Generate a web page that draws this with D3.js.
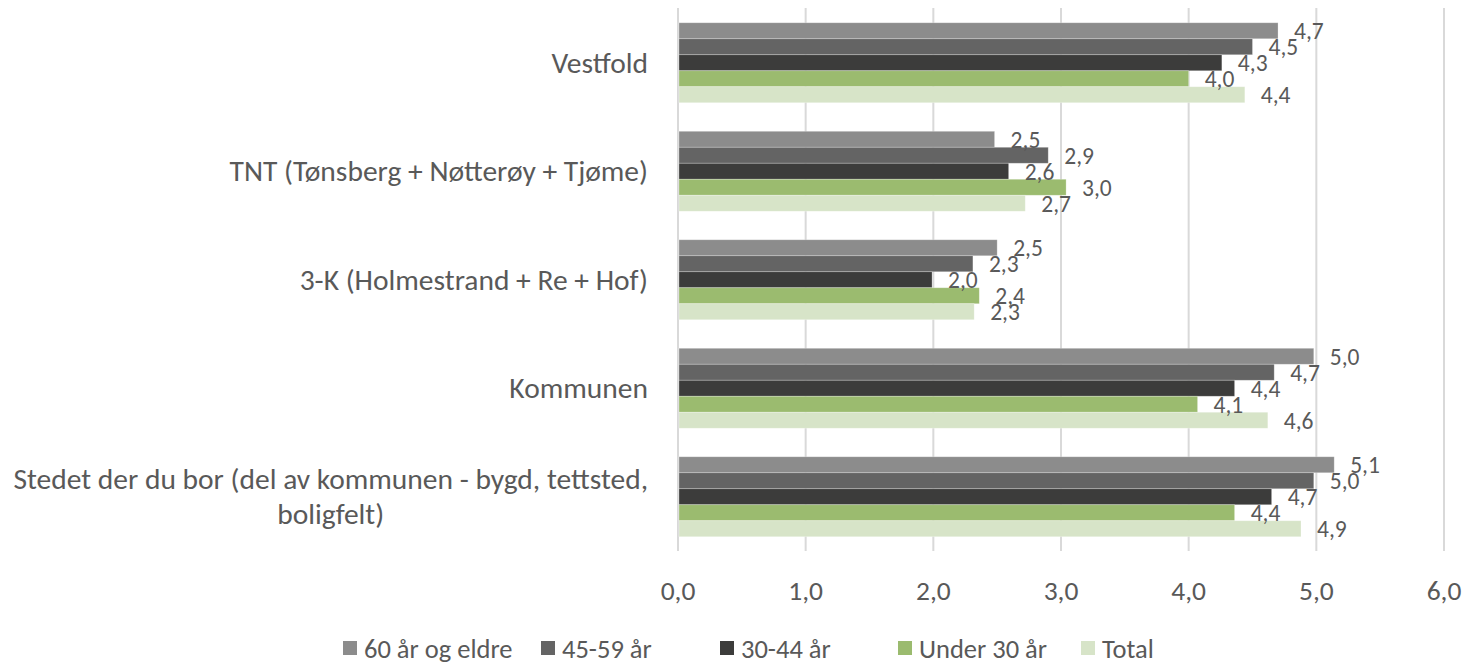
<!DOCTYPE html>
<html>
<head>
<meta charset="utf-8">
<script src="https://cdn.jsdelivr.net/npm/d3@7"></script>
<style>
  body { margin: 0; background: #fff; }
  svg text { font-family: Carlito, Calibri, Lato, sans-serif; fill: #595959; }
</style>
</head>
<body>
<svg width="1467" height="663"></svg>
<script>
// categories top -> bottom
var categories = [
  "Vestfold",
  "TNT (Tønsberg + Nøtterøy + Tjøme)",
  "3-K (Holmestrand + Re + Hof)",
  "Kommunen",
  "Stedet der du bor (del av kommunen - bygd, tettsted, boligfelt)"
];
var series = ["60 år og eldre", "45-59 år", "30-44 år", "Under 30 år", "Total"];
var colors = ["#8c8c8c", "#646464", "#3c3c3b", "#9bbb6f", "#d7e4c8"];

// values per series, same order as categories
var v60 = [4.70, 2.48, 2.50, 4.98, 5.14];
var v45 = [4.50, 2.90, 2.31, 4.67, 4.98];
var v30 = [4.26, 2.59, 1.99, 4.36, 4.65];
var vU30 = [4.00, 3.04, 2.36, 4.07, 4.36];
var vTot = [4.44, 2.72, 2.32, 4.62, 4.88];
var values = [v60, v45, v30, vU30, vTot];

var xTicks = [0, 1, 2, 3, 4, 5, 6];

var svg = d3.select("svg");
var fmt = function(d) { return d3.format(".1f")(d).replace(".", ","); };

var x = d3.scaleLinear().domain([0, 6]).range([678, 1444]);
var y = d3.scaleBand().domain(categories).range([8.5, 551])
    .paddingInner(0.263).paddingOuter(0.1315);
var ySub = d3.scaleBand().domain(series).range([0, y.bandwidth()]);
var color = d3.scaleOrdinal().domain(series).range(colors);

// gridlines
svg.append("g").selectAll("line")
  .data(xTicks)
  .join("line")
    .attr("x1", function(d) { return x(d); })
    .attr("x2", function(d) { return x(d); })
    .attr("y1", 8)
    .attr("y2", 551)
    .attr("stroke", "#d9d9d9")
    .attr("stroke-width", 2);

// tick labels
svg.append("g").selectAll("text")
  .data(xTicks)
  .join("text")
    .attr("x", function(d) { return x(d); })
    .attr("y", 600)
    .attr("text-anchor", "middle")
    .style("font-size", "27.5px")
    .text(fmt);

// bars
var rows = [];
categories.forEach(function(c, i) {
  series.forEach(function(s, j) {
    rows.push({cat: c, ser: s, val: values[j][i]});
  });
});

svg.append("g").selectAll("rect")
  .data(rows)
  .join("rect")
    .attr("x", x(0) + 1)
    .attr("y", function(d) { return y(d.cat) + ySub(d.ser); })
    .attr("width", function(d) { return x(d.val) - x(0) - 1; })
    .attr("height", ySub.bandwidth())
    .attr("fill", function(d) { return color(d.ser); })
    .attr("stroke", "rgba(255,255,255,0.35)")
    .attr("stroke-width", 0.75);

svg.append("g").selectAll("text")
  .data(rows)
  .join("text")
    .attr("x", function(d) { return x(d.val) + 16; })
    .attr("y", function(d) { return y(d.cat) + ySub(d.ser) + ySub.bandwidth() / 2 + 8.5; })
    .style("font-size", "23.5px")
    .text(function(d) { return fmt(d.val); });

// category labels (wrap the long one)
var catLines = {
  "Stedet der du bor (del av kommunen - bygd, tettsted, boligfelt)":
    ["Stedet der du bor (del av kommunen - bygd, tettsted,", "boligfelt)"]
};
var catG = svg.append("g");
categories.forEach(function(c) {
  var lines = catLines[c] || [c];
  var cy = y(c) + y.bandwidth() / 2;
  var t = catG.append("text")
    .attr("text-anchor", "end")
    .style("font-size", "29.5px")
    .attr("y", cy + 10 - (lines.length - 1) * 17.5);
  if (lines.length === 1) {
    t.attr("x", 648).text(c);
  } else {
    t.attr("x", 648).text(lines[0]);
    var w = t.node().getComputedTextLength();
    catG.append("text")
      .attr("text-anchor", "middle")
      .style("font-size", "29.5px")
      .attr("x", 648 - w / 2)
      .attr("y", cy + 10 + 17.5)
      .text(lines[1]);
  }
});

// legend
var legendX = [343, 541, 720, 898, 1081];
var leg = svg.append("g").selectAll("g")
  .data(series)
  .join("g")
    .attr("transform", function(d, i) { return "translate(" + legendX[i] + ",641)"; });
leg.append("rect")
  .attr("width", 14).attr("height", 14)
  .attr("fill", function(d) { return color(d); });
leg.append("text")
  .attr("x", 21).attr("y", 16.5)
  .style("font-size", "26.5px")
  .text(function(d) { return d; });
</script>
</body>
</html>
